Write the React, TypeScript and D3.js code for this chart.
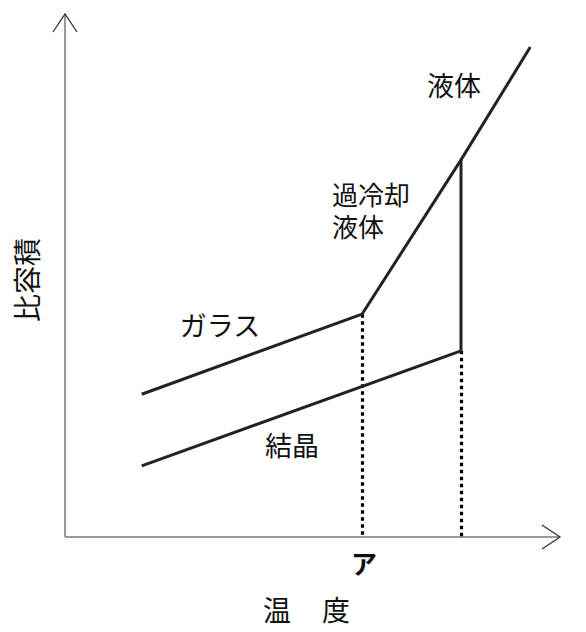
import * as d3 from 'd3'

// temperature (arbitrary units) and specific volume (arbitrary units)
const glassT = [1.55, 6.0]
const glassV = [2.73, 4.26]
const liquidT = [6.0, 8.0, 9.4]
const liquidV = [4.26, 7.21, 9.37]
const crystalT = [1.55, 8.0]
const crystalV = [1.36, 3.56]
const meltT = 8.0
const glassTransitionT = 6.0

const W = 586, H = 632
const FONT = '"Noto Sans CJK JP", sans-serif'

export default function App() {
  const x = d3.scaleLinear().domain([0, 10]).range([65, 560])
  const y = d3.scaleLinear().domain([0, 10]).range([537, 14])

  const line = d3.line<[number, number]>().x(d => x(d[0])).y(d => y(d[1]))
  const zip = (t: number[], v: number[]) => t.map((ti, i) => [ti, v[i]] as [number, number])

  const x0 = x(0), y0 = y(0)
  const xEnd = x(10), yTop = y(10)
  const stroke = '#222'

  return (
    <svg width={W} height={H} style={{ position: 'absolute', left: 0, top: 0, background: '#fff' }}>
      {/* axes */}
      <g stroke="#777" strokeWidth={1.5} fill="none">
        <line x1={x0} y1={y0} x2={x0} y2={yTop} />
        <line x1={x0} y1={y0} x2={xEnd} y2={y0} />
      </g>
      <g stroke="#333" strokeWidth={1.3} fill="none">
        <polyline points={`${x0 - 12},${yTop + 18} ${x0},${yTop} ${x0 + 12},${yTop + 18}`} />
        <polyline points={`${xEnd - 18},${y0 - 12} ${xEnd},${y0} ${xEnd - 18},${y0 + 12}`} />
      </g>

      {/* dotted guides */}
      <g stroke="#000" strokeWidth={3.2} strokeDasharray="3.5 3.5" transform="translate(0.5,0)">
        <line x1={x(glassTransitionT)} x2={x(glassTransitionT)} y1={y(glassV[1])} y2={y0} />
        <line x1={x(meltT)} x2={x(meltT)} y1={y(crystalV[1])} y2={y0} />
      </g>

      {/* curves */}
      <g stroke={stroke} strokeWidth={3} fill="none" strokeLinejoin="miter">
        <path d={line(zip(glassT, glassV)) ?? ''} />
        <path d={line(zip(liquidT, liquidV)) ?? ''} />
        <path d={line(zip(crystalT, crystalV)) ?? ''} />
        <line x1={x(meltT)} x2={x(meltT)} y1={y(liquidV[1])} y2={y(crystalV[1])} />
      </g>

      {/* labels */}
      <g fontFamily={FONT} fill="#111" fontSize={27}>
        <text x={454} y={96} textAnchor="middle">液体</text>
        <text x={332} y={205} fontSize={26}>
          <tspan x={332} y={205}>過冷却</tspan>
          <tspan x={332} y={237}>液体</tspan>
        </text>
        <text x={220} y={336} textAnchor="middle">ガラス</text>
        <text x={292} y={456} textAnchor="middle">結晶</text>
        <text x={x(glassTransitionT) + 2} y={574} textAnchor="middle" fontWeight="bold" fontSize={26}>ア</text>
        <text x={263} y={621} fontSize={28}>温</text>
        <text x={322} y={621} fontSize={28}>度</text>
        <text transform="translate(38,280) rotate(-90)" textAnchor="middle" fontSize={28}>比容積</text>
      </g>
    </svg>
  )
}
